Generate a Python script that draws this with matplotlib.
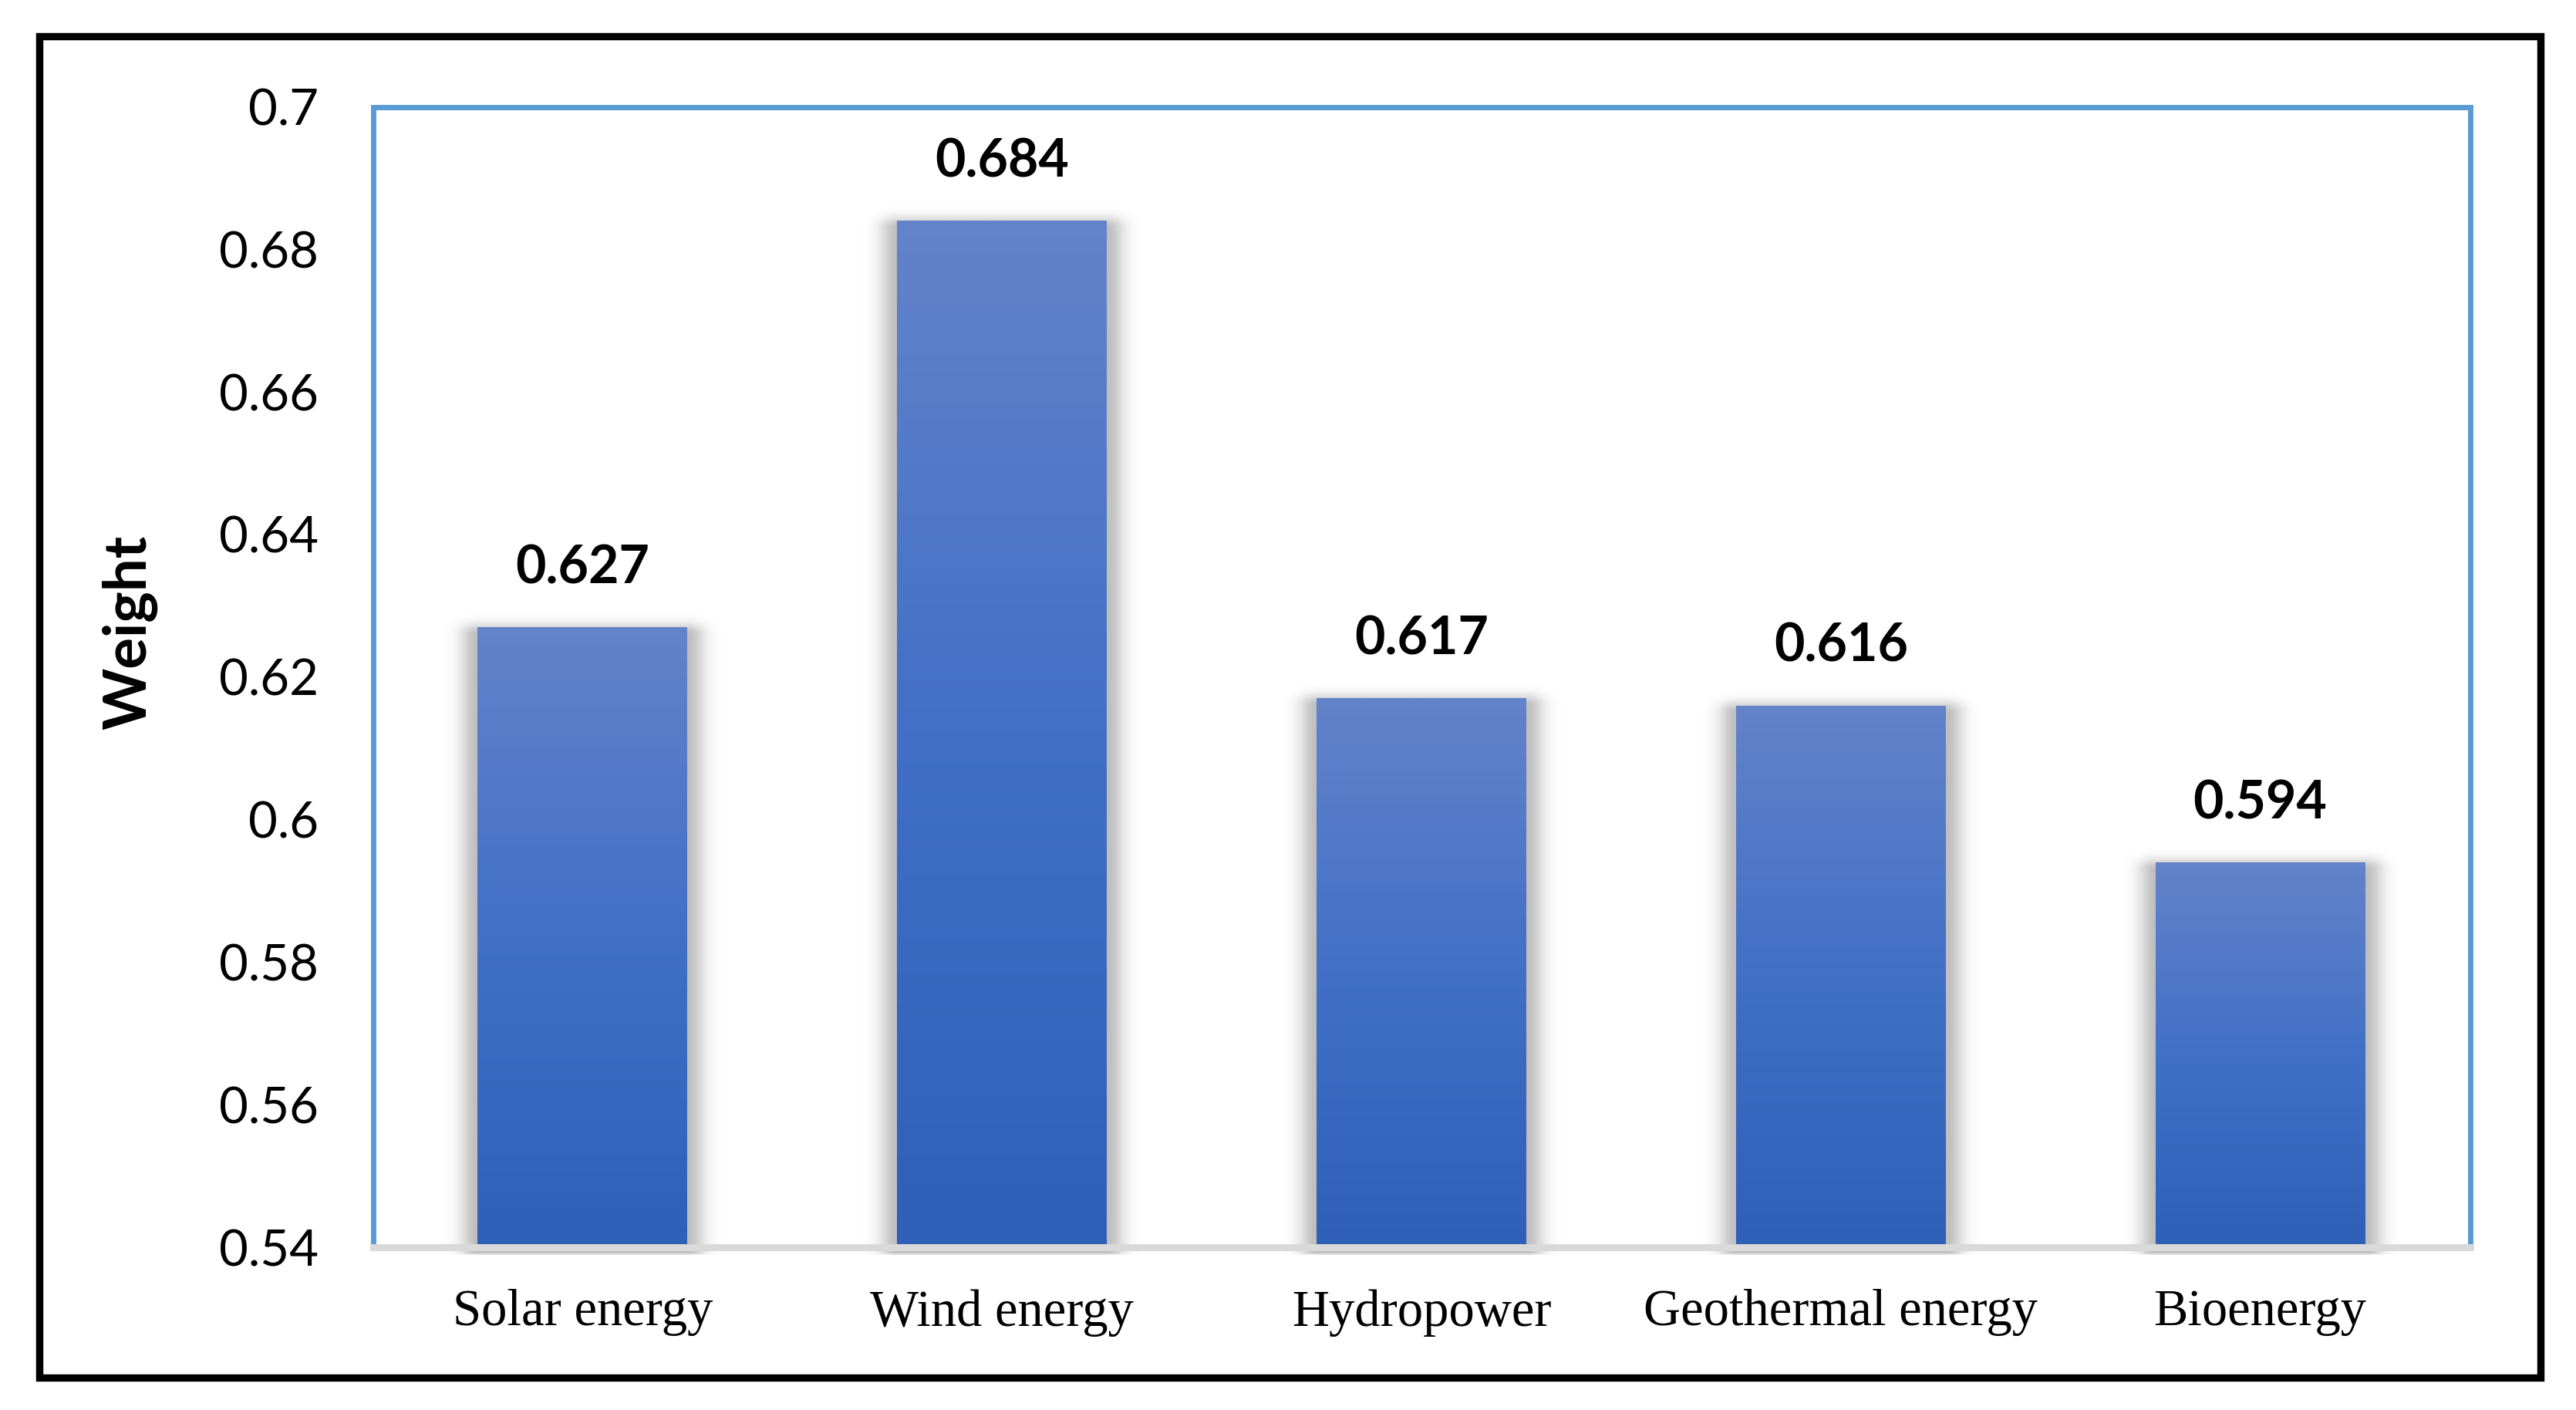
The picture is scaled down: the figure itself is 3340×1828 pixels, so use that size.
import numpy as np
import matplotlib.pyplot as plt
from matplotlib.colors import to_rgb
from matplotlib.patches import Rectangle

# data
categories = ['Solar energy', 'Wind energy', 'Hydropower', 'Geothermal energy', 'Bioenergy']
weights = [0.627, 0.684, 0.617, 0.616, 0.594]
y_ticks = [0.54, 0.56, 0.58, 0.6, 0.62, 0.64, 0.66, 0.68, 0.7]
y_min, y_max = 0.54, 0.7

W, H, DPI = 3340, 1828, 100
fig = plt.figure(figsize=(W / DPI, H / DPI), dpi=DPI)

# axes box in pixels (left, right, top, bottom)
ax_l, ax_r, ax_t, ax_b = 483.5, 3202.5, 138.5, 1617
ax = fig.add_axes([ax_l / W, 1 - ax_b / H, (ax_r - ax_l) / W, (ax_b - ax_t) / H])

x = np.arange(len(categories))
bar_w = 0.5
bars = ax.bar(x, np.array(weights) - y_min, bottom=y_min, width=bar_w,
              color='#4472c4', zorder=2)

ax.set_xlim(-0.5, len(categories) - 0.5)
ax.set_ylim(y_min, y_max)

# pixel size in data units
px_x = (len(categories)) / (ax_r - ax_l)
px_y = (y_max - y_min) / (ax_b - ax_t)

# vertical gradient, light at top, darker at bottom
stops = [to_rgb('#2f5fb7'), to_rgb('#4170c6'), to_rgb('#6383ca')]
t = np.linspace(0, 1, 256)
grad = np.zeros((256, 1, 3))
for c in range(3):
    grad[:, 0, c] = np.interp(t, [0, 0.5, 1], [s[c] for s in stops])

for rect in bars:
    x0 = rect.get_x()
    x1 = x0 + rect.get_width()
    top = rect.get_y() + rect.get_height()

    # soft shadow behind each bar
    pad_x, pad_top, pad_bot = 70, 30, 10
    nx = int((x1 - x0) / px_x) + 2 * pad_x
    ny = int((top - y_min) / px_y) + pad_top + pad_bot
    xs = np.arange(nx) - pad_x
    ys = np.arange(ny) - pad_bot
    bw = nx - 2 * pad_x
    bh = ny - pad_top - pad_bot
    dx = np.maximum(np.maximum(-xs, xs - bw), 0)
    dy_top = np.maximum(ys - bh + 10, 0)
    dy_bot = np.maximum(-ys - 7, 0)
    f_x = np.exp(-(dx / 22.0) ** 2)
    f_y = np.exp(-(dy_top / 14.0) ** 2) * np.exp(-(dy_bot / 3.0) ** 2)
    alpha = 0.30 * f_y[:, None] * f_x[None, :]
    shadow = np.zeros((ny, nx, 4))
    shadow[..., :3] = 0.15
    shadow[..., 3] = alpha
    ax.imshow(shadow, extent=[x0 - pad_x * px_x, x1 + pad_x * px_x,
                              y_min - pad_bot * px_y, top + pad_top * px_y],
              origin='lower', aspect='auto', zorder=1, clip_on=False,
              interpolation='bilinear')

    im = ax.imshow(grad, extent=[x0, x1, y_min, top], origin='lower',
                   aspect='auto', zorder=3, interpolation='bilinear')
    im.set_clip_path(rect)

ax.set_xlim(-0.5, len(categories) - 0.5)
ax.set_ylim(y_min, y_max)

# value labels
for xi, v in zip(x, weights):
    ax.annotate(f'{v:.3f}', (xi, v), xytext=(0, 41), textcoords='offset points',
                ha='center', va='baseline', fontsize=49, fontweight='bold',
                family='Lato', zorder=5)

# axes styling
for side in ['left', 'top', 'right']:
    ax.spines[side].set_color('#5b9bd5')
    ax.spines[side].set_linewidth(5)
ax.spines['bottom'].set_color('#d9d9d9')
ax.spines['bottom'].set_linewidth(6.5)
ax.spines['bottom'].set_zorder(4)

ax.set_yticks(y_ticks)
ax.set_yticklabels([f'{v:g}' for v in y_ticks], family='Lato', fontsize=47)
ax.tick_params(axis='y', length=0, pad=51)
ax.set_xticks(x)
ax.set_xticklabels(categories, family='Liberation Serif', fontsize=48)
ax.tick_params(axis='x', length=0, pad=39)

ax.set_ylabel('Weight', family='Lato', fontweight='bold', fontsize=55, va='center')
ax.yaxis.set_label_coords(-0.116, 0.539)

# black outer frame
fig.patches.append(Rectangle((50.5 / W, 1 - 1786 / H), (3293.5 - 50.5) / W,
                             (1786 - 47) / H, transform=fig.transFigure,
                             fill=False, edgecolor='black', linewidth=6.8))

fig.savefig('out.png', dpi=DPI)
